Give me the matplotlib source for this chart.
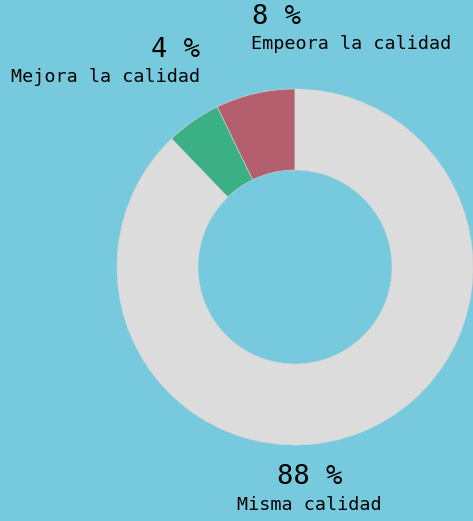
import matplotlib
matplotlib.use("Agg")
import matplotlib.pyplot as plt

categories = ["Empeora la calidad", "Mejora la calidad", "Misma calidad"]
values = [7.2, 5.0, 87.8]
pct_labels = ["8 %", "4 %", "88 %"]
colors = ["#B35F6D", "#3AB084", "#DCDCDC"]
bg = "#77CADD"

W, H = 473, 521
fig = plt.figure(figsize=(W / 100, H / 100), dpi=100, facecolor=bg)
ax = fig.add_axes([0, 0, 1, 1])
ax.set_facecolor(bg)

ax.pie(values, colors=colors, startangle=90, counterclock=True,
       center=(295, H - 267), radius=178,
       wedgeprops=dict(width=81, edgecolor="#d8d8d8", linewidth=0.4),
       frame=True)
ax.set_xlim(0, W)
ax.set_ylim(0, H)
ax.set_aspect("equal")
ax.axis("off")

mono = "DejaVu Sans Mono"
big = 19.5
small = 13.2
# Empeora
ax.text(252, H - 17, pct_labels[0], family=mono, fontsize=big, ha="left", va="center")
ax.text(251, H - 44, categories[0], family=mono, fontsize=small, ha="left", va="center")
# Mejora
ax.text(200, H - 50, pct_labels[1], family=mono, fontsize=big, ha="right", va="center")
ax.text(200, H - 77, categories[1], family=mono, fontsize=small, ha="right", va="center")
# Misma
ax.text(310, H - 477, pct_labels[2], family=mono, fontsize=big, ha="center", va="center")
ax.text(309, H - 505, categories[2], family=mono, fontsize=small, ha="center", va="center")

fig.savefig("out.png", dpi=100, facecolor=bg)
